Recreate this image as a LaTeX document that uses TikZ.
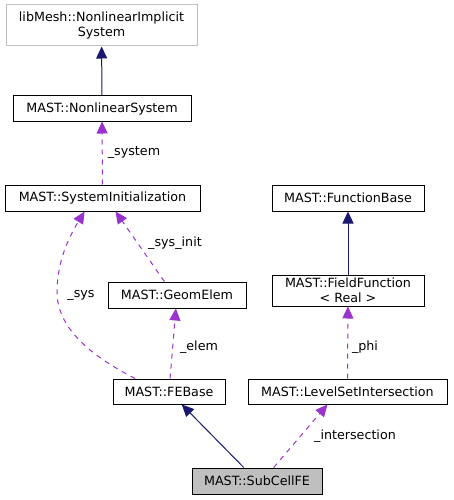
\documentclass[tikz,border=0pt]{standalone}
\usepackage{fontspec}
\setmainfont{DejaVu Sans}
\usepackage{xcolor}
\usepackage{tikz}
\usetikzlibrary{arrows.meta,positioning,shapes}

\definecolor{navy}{HTML}{191970}
\definecolor{orchid}{HTML}{9A32CD}
\definecolor{boxgray}{HTML}{BFBFBF}

\begin{document}
\begin{tikzpicture}[x=1pt,y=-1pt,font=\fontsize{12.7}{14.5}\selectfont]

\tikzstyle{block} = [draw, rectangle, line width=1pt, inner sep=0pt, minimum height=26, align=center]
\tikzstyle{inherit} = [-{Triangle[length=12,width=11]}, draw=navy, line width=1pt]
\tikzstyle{member} = [-{Triangle[length=12,width=11]}, draw=orchid, line width=1pt, dash pattern=on 5pt off 5pt]

\useasboundingbox (0,0) rectangle (453,500);

\node [block, draw=boxgray, minimum width=191, minimum height=41] (implicit) at (101.5,25.5) {libMesh::NonlinearImplicit\\System};
\node [block, minimum width=178, minimum height=25] (nlsys) at (102,108.5) {MAST::NonlinearSystem};
\node [block, minimum width=195] (sysinit) at (102.5,198) {MAST::SystemInitialization};
\node [block, minimum width=152] (funcbase) at (348,198) {MAST::FunctionBase};
\node [block, minimum width=152, minimum height=31] (fieldfunc) at (348,290.5) {MAST::FieldFunction\\< Real >};
\node [block, minimum width=138] (geomelem) at (177,295) {MAST::GeomElem};
\node [block, minimum width=112, minimum height=25] (febase) at (169,391.5) {MAST::FEBase};
\node [block, minimum width=199, minimum height=25] (levelset) at (347.5,391.5) {MAST::LevelSetIntersection};
\node [block, fill=boxgray, minimum width=130] (subcell) at (257,481) {MAST::SubCellFE};

\draw [inherit] (nlsys) -- (implicit);
\draw [member] (sysinit) -- (nlsys);
\draw [member] (febase.159) .. controls (95,358) and (57,330) .. (57,292) .. controls (57,258) and (72,232) .. (sysinit.217);
\draw [member] (geomelem.133) -- (sysinit.314);
\draw [member] (febase) -- (geomelem);
\draw [inherit] (fieldfunc) -- (funcbase);
\draw [member] (levelset) -- (fieldfunc);
\draw [inherit] (subcell) -- (febase);
\draw [member] (subcell.39) -- (levelset.213);

\node (l-system) at (134,153) {\_system};
\node (l-sysinit) at (175,243) {\_sys\_init};
\node (l-sys) at (81,295) {\_sys};
\node (l-elem) at (199,347) {\_elem};
\node (l-phi) at (365,347) {\_phi};
\node (l-intersection) at (355,436) {\_intersection};
\end{tikzpicture}
\end{document}
